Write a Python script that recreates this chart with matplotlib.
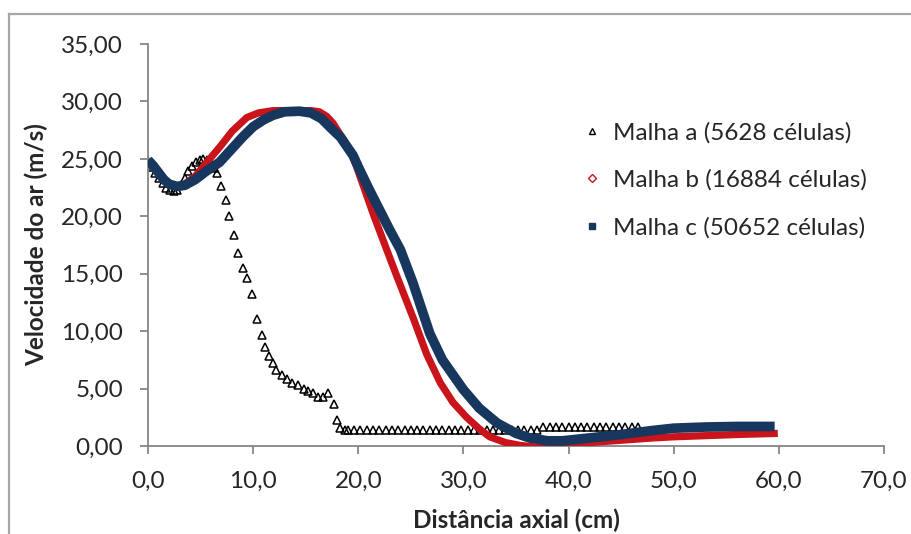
import matplotlib
matplotlib.use("Agg")
import matplotlib.pyplot as plt
from matplotlib.lines import Line2D
from matplotlib.ticker import FuncFormatter, MultipleLocator

plt.rcParams["font.family"] = ["Lato", "DejaVu Sans"]

# Malha a (5628 células) - discrete triangles
a_x = [0.0, 0.35, 0.7, 1.05, 1.4, 1.75, 2.1, 2.45, 2.8, 3.15, 3.5, 3.85, 4.2, 4.55,
       4.9, 5.25, 5.6, 6.0, 6.3, 6.6, 6.9, 7.4, 7.7, 8.2, 8.6, 9.0, 9.4, 9.9, 10.4,
       10.8, 11.1, 11.5, 11.9, 12.2, 12.7, 13.2, 13.7, 14.3, 14.8, 15.2, 15.7, 16.2,
       16.6, 17.1, 17.7, 18.0, 18.3, 18.7,
       19.0, 19.6, 20.2, 20.8, 21.4, 22.0, 22.6, 23.2, 23.8, 24.4, 25.0, 25.6, 26.2,
       26.8, 27.4, 28.0, 28.6, 29.2, 29.8, 30.4, 31.0, 31.6, 32.2, 32.8, 33.4, 34.0,
       34.6, 35.2, 35.8, 36.4, 37.0,
       37.6, 38.2, 38.8, 39.4, 40.0, 40.6, 41.2, 41.8, 42.4, 43.0, 43.6, 44.2, 44.8,
       45.4, 46.0, 46.6]
a_y = [24.8, 24.3, 23.8, 23.3, 22.9, 22.5, 22.3, 22.2, 22.3, 22.7, 23.3, 23.9, 24.4, 24.7,
       24.9, 25.0, 24.9, 24.6, 24.2, 23.8, 22.6, 21.4, 20.0, 18.4, 16.8, 15.5, 14.6, 13.2, 11.1,
       9.7, 8.6, 7.8, 7.2, 6.6, 6.2, 5.8, 5.5, 5.3, 5.0, 4.8, 4.6, 4.3,
       4.3, 4.6, 3.7, 2.3, 1.6, 1.4,
       1.35, 1.35, 1.35, 1.35, 1.35, 1.35, 1.35, 1.35, 1.35, 1.35, 1.35, 1.35, 1.35,
       1.35, 1.35, 1.35, 1.35, 1.35, 1.35, 1.35, 1.35, 1.35, 1.35, 1.35, 1.35, 1.35,
       1.35, 1.35, 1.35, 1.35, 1.35,
       1.65, 1.65, 1.65, 1.65, 1.65, 1.65, 1.65, 1.65, 1.65, 1.65, 1.65, 1.65, 1.65,
       1.65, 1.65, 1.65]

# Malha b (16884 células)
b_x = [0.0, 0.5, 1.0, 1.5, 2.0, 2.6, 3.5, 4.5, 5.5, 6.8, 8.0, 9.4, 10.5, 11.9, 13.0,
       14.5, 15.5, 16.3, 17.0, 17.6, 18.5, 19.5, 20.5, 21.5, 22.7, 23.7, 25.2, 26.5,
       27.8, 29.0, 30.3, 31.5, 32.5, 34.0, 35.4, 37.0, 38.5, 39.2, 42.0, 45.0, 48.0,
       50.0, 53.0, 56.0, 59.9]
b_y = [24.8, 24.4, 23.8, 23.2, 22.8, 22.6, 22.8, 23.5, 24.6, 26.0, 27.4, 28.6, 29.0,
       29.2, 29.2, 29.2, 29.2, 29.1, 28.7, 28.1, 26.8, 25.2, 22.6, 20.0, 17.1, 14.7,
       11.2, 8.0, 5.5, 3.8, 2.5, 1.5, 0.8, 0.3, 0.05, -0.1, -0.05, 0.05, 0.3, 0.5,
       0.7, 0.8, 0.9, 1.0, 1.1]

# Malha c (50652 células)
c_x = [0.0, 0.5, 1.0, 1.5, 2.0, 2.75, 3.5, 4.5, 5.5, 6.8, 8.0, 9.0, 10.0, 11.0, 11.9,
       13.0, 14.4, 15.5, 16.5, 17.6, 18.3, 19.5, 20.0, 21.0, 22.0, 23.0, 24.0, 25.2,
       26.0, 26.8, 28.0, 30.0, 31.5, 33.2, 35.0, 36.3, 38.0, 39.4, 42.0, 45.0, 48.0,
       50.0, 53.0, 56.0, 59.6]
c_y = [24.9, 24.4, 23.8, 23.2, 22.8, 22.6, 22.7, 23.2, 23.9, 24.7, 25.9, 26.9, 27.8,
       28.4, 28.8, 29.1, 29.15, 29.0, 28.5, 27.5, 26.9, 25.3, 24.3, 22.4, 20.6, 18.8,
       17.1, 14.2, 12.0, 9.8, 7.5, 4.9, 3.3, 2.0, 1.1, 0.7, 0.45, 0.45, 0.7, 1.0,
       1.35, 1.55, 1.65, 1.7, 1.7]

labels = ["Malha a (5628 células)", "Malha b (16884 células)", "Malha c (50652 células)"]
NAVY = "#17375E"
RED = "#C8141A"
AXIS_GRAY = "#868686"
TEXT = "#262626"

fig = plt.figure(figsize=(9.11, 5.34), dpi=100)
ax = fig.add_axes([148 / 911, 1 - 446 / 534, (884 - 148) / 911, (446 - 44) / 534])

ax.plot(a_x, a_y, ls="none", marker="^", ms=6, mfc="none", mec="black", mew=1.1,
        zorder=2)
ax.plot(b_x, b_y, color=RED, lw=5.2, solid_capstyle="butt", zorder=3)
ax.plot(c_x, c_y, color=NAVY, lw=7.0, solid_capstyle="butt", zorder=4)

ax.set_xlim(0, 70)
ax.set_ylim(0, 35)
ax.xaxis.set_major_locator(MultipleLocator(10))
ax.yaxis.set_major_locator(MultipleLocator(5))
ax.xaxis.set_major_formatter(FuncFormatter(lambda v, p: f"{v:.1f}".replace(".", ",")))
ax.yaxis.set_major_formatter(FuncFormatter(lambda v, p: f"{v:.2f}".replace(".", ",")))

for side in ("top", "right"):
    ax.spines[side].set_visible(False)
for side in ("left", "bottom"):
    ax.spines[side].set_color(AXIS_GRAY)
    ax.spines[side].set_linewidth(1.3)
ax.tick_params(direction="out", length=6, width=1.3, color=AXIS_GRAY,
               labelsize=17.5, labelcolor=TEXT, pad=12)
ax.tick_params(axis="x", pad=12)

ax.set_xlabel("Distância axial (cm)", fontsize=17.5, fontweight="bold", color=TEXT,
              labelpad=12)
ax.set_ylabel("Velocidade do ar (m/s)", fontsize=17.5, fontweight="bold", color=TEXT,
              labelpad=9)

handles = [
    Line2D([], [], ls="none", marker="^", ms=5, mfc="none", mec="black", mew=1.0),
    Line2D([], [], ls="none", marker="D", ms=4.5, mfc="none", mec=RED, mew=1.0),
    Line2D([], [], ls="none", marker="s", ms=5, mfc=NAVY, mec=NAVY),
]
leg = ax.legend(handles, labels, loc="upper left", bbox_to_anchor=(570 / 911, 1 - 110 / 534),
                bbox_transform=fig.transFigure, frameon=False, fontsize=17.5,
                handlelength=0.8, handletextpad=0.45, labelspacing=1.06, borderpad=0)
for t in leg.get_texts():
    t.set_color(TEXT)

# chart-area border (top and left visible in the reference)
fig.add_artist(Line2D([9 / 911, 1], [1 - 14 / 534, 1 - 14 / 534], color="#a6a6a6", lw=1.6))
fig.add_artist(Line2D([9 / 911, 9 / 911], [0, 1 - 14 / 534], color="#a6a6a6", lw=1.6))

fig.savefig("out.png", dpi=100)
